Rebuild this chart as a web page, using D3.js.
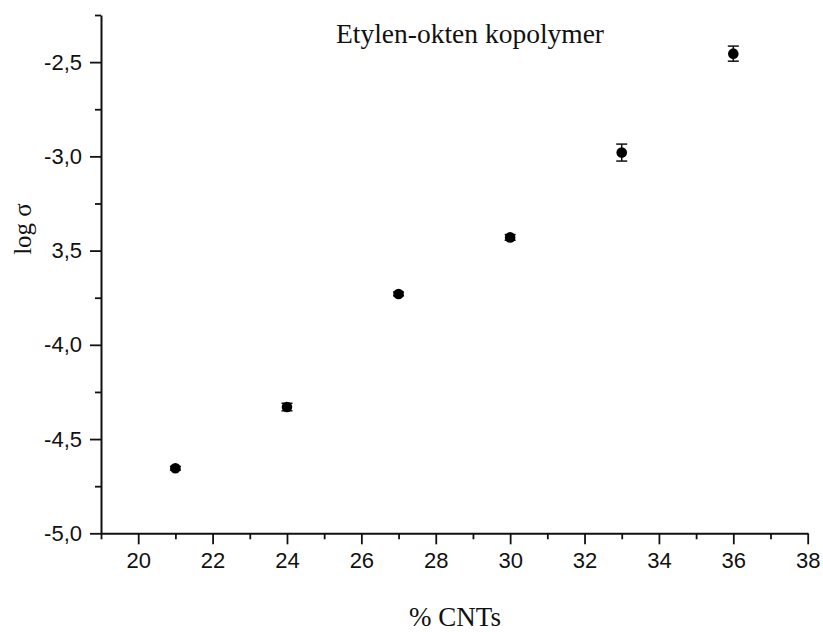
<!DOCTYPE html>
<html>
<head>
<meta charset="utf-8">
<script src="https://cdn.jsdelivr.net/npm/d3@7"></script>
<style>
  body { margin: 0; background: #fff; }
  .axis path, .axis line { stroke: #111; }
  .axis text { font-family: "Liberation Sans", Arial, sans-serif; fill: #111; }
</style>
</head>
<body>
<div id="chart"></div>
<script>
// data
var cnt = [21, 24, 27, 30, 33, 36]
var logSigma = [-4.655, -4.33, -3.73, -3.43, -2.98, -2.455]
var errs = [0.01, 0.02, 0.01, 0.015, 0.045, 0.04]

var xTicks = [20, 22, 24, 26, 28, 30, 32, 34, 36, 38]
var xMinor = [19, 21, 23, 25, 27, 29, 31, 33, 35, 37]
var yTicks = [-5, -4.5, -4, -3.5, -3, -2.5]
var yTickLabels = ['-5,0', '-4,5', '-4,0', '3,5', '-3,0', '-2,5']
var yMinor = [-4.75, -4.25, -3.75, -3.25, -2.75, -2.25]

var width = 823, height = 632

var svg = d3.select('#chart').append('svg')
    .attr('width', width)
    .attr('height', height)

var x = d3.scaleLinear().domain([19, 38]).range([101, 807.7])
var y = d3.scaleLinear().domain([-5, -2.25]).range([533.3, 15])

// minor ticks first, then major axes on top
svg.append('g')
    .attr('class', 'axis')
    .attr('transform', 'translate(0,' + y(-5) + ')')
    .call(d3.axisBottom(x).tickValues(xMinor).tickSize(6).tickSizeOuter(0).tickFormat(''))
    .call(function (g) { g.select('.domain').remove() })
    .selectAll('line').attr('stroke-width', 1.8)

svg.append('g')
    .attr('class', 'axis')
    .attr('transform', 'translate(' + x(19) + ',0)')
    .call(d3.axisLeft(y).tickValues(yMinor).tickSize(6).tickSizeOuter(0).tickFormat(''))
    .call(function (g) { g.select('.domain').remove() })
    .selectAll('line').attr('stroke-width', 1.8)

var xAxis = svg.append('g')
    .attr('class', 'axis x-axis')
    .attr('transform', 'translate(0,' + y(-5) + ')')
    .call(d3.axisBottom(x).tickValues(xTicks).tickSize(11).tickSizeOuter(0).tickPadding(8))
xAxis.select('.domain').attr('stroke-width', 2)
xAxis.selectAll('line').attr('stroke-width', 1.8)
xAxis.selectAll('text').attr('font-size', '22px')

var yAxis = svg.append('g')
    .attr('class', 'axis y-axis')
    .attr('transform', 'translate(' + x(19) + ',0)')
    .call(d3.axisLeft(y).tickValues(yTicks).tickSize(11)
      .tickSizeOuter(0).tickPadding(8)
      .tickFormat(function (d, i) { return yTickLabels[i] }))
yAxis.select('.domain').attr('stroke-width', 2)
yAxis.selectAll('line').attr('stroke-width', 1.8)
yAxis.selectAll('text').attr('font-size', '22px')

// error bars
var bars = svg.append('g').selectAll('g')
    .data(cnt)
    .enter().append('g')
    .attr('stroke', '#111')
    .attr('stroke-width', 1.5)

bars.append('line')
    .attr('x1', function (d) { return x(d) })
    .attr('x2', function (d) { return x(d) })
    .attr('y1', function (d, i) { return y(logSigma[i] - errs[i]) })
    .attr('y2', function (d, i) { return y(logSigma[i] + errs[i]) })

bars.append('line')
    .attr('x1', function (d) { return x(d) - 5.5 })
    .attr('x2', function (d) { return x(d) + 5.5 })
    .attr('y1', function (d, i) { return y(logSigma[i] + errs[i]) })
    .attr('y2', function (d, i) { return y(logSigma[i] + errs[i]) })

bars.append('line')
    .attr('x1', function (d) { return x(d) - 5.5 })
    .attr('x2', function (d) { return x(d) + 5.5 })
    .attr('y1', function (d, i) { return y(logSigma[i] - errs[i]) })
    .attr('y2', function (d, i) { return y(logSigma[i] - errs[i]) })

svg.append('g').selectAll('circle')
    .data(cnt)
    .enter().append('circle')
    .attr('cx', function (d) { return x(d) })
    .attr('cy', function (d, i) { return y(logSigma[i]) })
    .attr('r', 5.3)
    .attr('fill', '#000')

// title and axis labels
svg.append('text')
    .text('Etylen-okten kopolymer')
    .attr('x', 470)
    .attr('y', 43)
    .attr('text-anchor', 'middle')
    .attr('font-family', '"Liberation Serif", "Times New Roman", serif')
    .attr('font-size', '27.5px')
    .attr('fill', '#111')

svg.append('text')
    .text('% CNTs')
    .attr('x', 455)
    .attr('y', 626)
    .attr('text-anchor', 'middle')
    .attr('font-family', '"Liberation Serif", "Times New Roman", serif')
    .attr('font-size', '27px')
    .attr('fill', '#111')

svg.append('text')
    .text('log σ')
    .attr('transform', 'translate(31,229) rotate(-90)')
    .attr('text-anchor', 'middle')
    .attr('font-family', '"Liberation Serif", "Times New Roman", serif')
    .attr('font-size', '25px')
    .attr('fill', '#111')
</script>
</body>
</html>
